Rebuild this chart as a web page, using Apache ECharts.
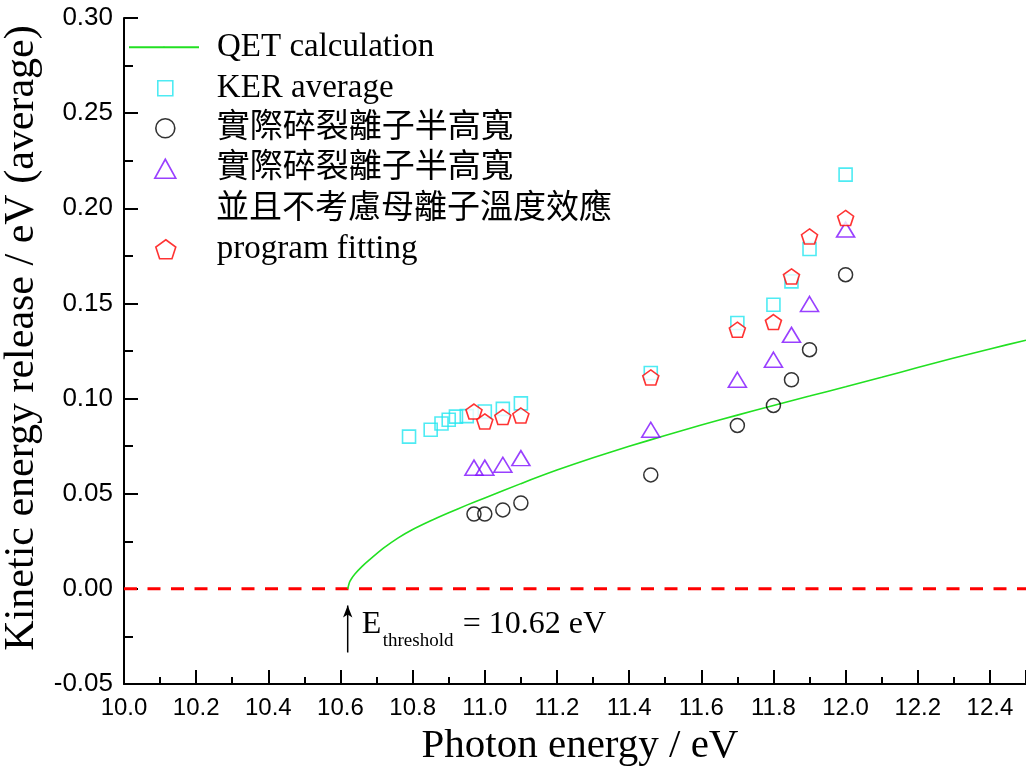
<!DOCTYPE html>
<html>
<head>
<meta charset="utf-8">
<script src="https://cdn.jsdelivr.net/npm/echarts@6/dist/echarts.min.js"></script>
<style>html,body{margin:0;padding:0;background:#fff}#c{width:1026px;height:775px}</style>
</head>
<body>
<div id="c"></div>
<script>
// ---- data ----
const qetX = [10.62, 10.625, 10.63, 10.64, 10.66, 10.68, 10.72, 10.76, 10.80, 10.85, 10.90, 10.95, 11.00, 11.10, 11.20, 11.30, 11.40, 11.50, 11.60, 11.70, 11.80, 11.90, 12.00, 12.10, 12.20, 12.30, 12.40, 12.50];
const qetY = [0.0, 0.0035, 0.0052, 0.0078, 0.0118, 0.0152, 0.0215, 0.0268, 0.0312, 0.0358, 0.0400, 0.0440, 0.0478, 0.0553, 0.0624, 0.0689, 0.0749, 0.0806, 0.0861, 0.0913, 0.0964, 0.1013, 0.1062, 0.1112, 0.1163, 0.1213, 0.1261, 0.1307];

const kerX = [10.79, 10.85, 10.88, 10.90, 10.92, 10.95, 11.00, 11.05, 11.10, 11.46, 11.70, 11.80, 11.85, 11.90, 12.00];
const kerY = [0.0800, 0.0836, 0.0869, 0.0889, 0.0905, 0.0908, 0.0932, 0.0946, 0.0975, 0.1134, 0.1397, 0.1493, 0.1616, 0.1786, 0.2177];

const ptX = [10.97, 11.00, 11.05, 11.10, 11.46, 11.70, 11.80, 11.85, 11.90, 12.00];
const circleY = [0.0393, 0.0393, 0.0415, 0.0451, 0.0599, 0.0859, 0.0964, 0.1099, 0.1257, 0.1651];
const triangleY = [0.0637, 0.0637, 0.0652, 0.0687, 0.0836, 0.1099, 0.1204, 0.1335, 0.1497, 0.1888];
const pentagonY = [0.0932, 0.0880, 0.0903, 0.0911, 0.1111, 0.1362, 0.1402, 0.1642, 0.1852, 0.1949];

const zeroLineX = [10.0, 12.5];
const zeroLineY = [0.0, 0.0];

const thresholdEnergy = 10.62;
const arrowFromY = -0.0335;
const arrowToY = -0.0088;

const legendNames = {
  qet: 'QET calculation',
  ker: 'KER average',
  circle: '實際碎裂離子半高寬',
  triangle: '實際碎裂離子半高寬',
  triangle2: '並且不考慮母離子溫度效應',
  pent: 'program fitting'
};
const annotation = { E: 'E', sub: 'threshold', rest: '= 10.62 eV' };

// ---- build ----
const zip = (xs, ys) => xs.map((x, i) => [x, ys[i]]);
const SERIF = "'Liberation Serif','Times New Roman','Noto Sans CJK TC',serif";
const SANS = "'Liberation Sans',Arial,sans-serif";
const pentagonPath = 'path://M0,-1 L0.951,-0.309 L0.588,0.809 L-0.588,0.809 L-0.951,-0.309 Z';
const TEXT_X = 216;

const chart = echarts.init(document.getElementById('c'), null, { renderer: 'canvas' });

function mkLegend(names, left, top, iw, ih) {
  return {
    orient: 'vertical', left: left, top: top, padding: 0,
    itemWidth: iw, itemHeight: ih, itemGap: 0, selectedMode: false,
    data: names,
    formatter: n => legendNames[n],
    itemStyle: { borderWidth: 1.6 },
    textStyle: { fontFamily: SERIF, fontSize: 33, color: '#000', lineHeight: 40.5,
                 padding: [0, 0, 0, TEXT_X - (left + iw + 5)] }
  };
}

const option = {
  animation: false,
  backgroundColor: '#fff',
  grid: { left: 124, right: 0, top: 18, bottom: 91, containLabel: false, outerBoundsMode: 'none' },
  legend: [
    mkLegend(['qet'], 128, 27, 70, 2),
    mkLegend(['ker'], 157, 68, 15, 15),
    mkLegend(['circle', 'triangle'], 154, 108, 21, 19),
    mkLegend(['pent'], 155, 229, 20, 19)
  ],
  xAxis: {
    type: 'value', min: 10.0, max: 12.5, interval: 0.2,
    axisLine: { show: true, onZero: false, lineStyle: { color: '#000', width: 2 } },
    axisTick: { show: true, inside: true, length: 14, lineStyle: { color: '#000', width: 2 } },
    minorTick: { show: true, splitNumber: 2, length: 7, lineStyle: { color: '#000', width: 2 } },
    splitLine: { show: false },
    axisLabel: { fontFamily: SANS, fontSize: 24, color: '#000', margin: 12, showMaxLabel: false, formatter: v => v.toFixed(1) },
    name: 'Photon energy / eV', nameLocation: 'middle', nameGap: 42,
    nameTextStyle: { fontFamily: SERIF, fontSize: 41, color: '#000', padding: [0, 0, 0, 10] }
  },
  yAxis: {
    type: 'value', min: -0.05, max: 0.30, interval: 0.05,
    axisLine: { show: true, onZero: false, lineStyle: { color: '#000', width: 2 } },
    axisTick: { show: true, inside: true, length: 14, lineStyle: { color: '#000', width: 2 } },
    minorTick: { show: true, splitNumber: 2, length: 9, lineStyle: { color: '#000', width: 2 } },
    splitLine: { show: false },
    axisLabel: { fontFamily: SANS, fontSize: 26, color: '#000', margin: 11, formatter: v => v.toFixed(2) },
    name: 'Kinetic energy release / eV (average)', nameLocation: 'middle', nameGap: 71, nameRotate: 90,
    nameTextStyle: { fontFamily: SERIF, fontSize: 42, color: '#000', padding: [0, 0, 0, 26] }
  },
  series: [
    {
      name: 'qet', type: 'line', data: zip(qetX, qetY), symbol: 'none', showSymbol: false, smooth: 0.25,
      lineStyle: { color: '#22e022', width: 1.6 }, itemStyle: { color: '#22e022' }, z: 2, silent: true
    },
    {
      name: 'ker', type: 'scatter', data: zip(kerX, kerY), symbol: 'rect', symbolSize: 13,
      itemStyle: { color: 'rgba(0,0,0,0)', borderColor: '#22e6f0', borderWidth: 1.6 }, z: 3
    },
    {
      name: 'circle', type: 'scatter', data: zip(ptX, circleY), symbol: 'circle', symbolSize: 14,
      itemStyle: { color: 'rgba(0,0,0,0)', borderColor: '#000', borderWidth: 1.5 }, z: 3
    },
    {
      name: 'triangle', type: 'scatter', data: zip(ptX, triangleY), symbol: 'triangle', symbolSize: [18, 15],
      itemStyle: { color: 'rgba(0,0,0,0)', borderColor: '#8010ff', borderWidth: 1.6 }, z: 3
    },
    {
      name: 'pent', type: 'scatter', data: zip(ptX, pentagonY), symbol: pentagonPath, symbolSize: [16, 15],
      itemStyle: { color: '#fff', borderColor: '#ff0000', borderWidth: 1.6 }, z: 4
    },
    {
      name: 'zero', type: 'line', data: zip(zeroLineX, zeroLineY), symbol: 'none', silent: true,
      lineStyle: { color: '#ff0000', width: 3, type: [13, 10.5] }, z: 1
    },
    {
      name: 'arrow', type: 'line', silent: true, showSymbol: true,
      data: [
        { value: [thresholdEnergy, arrowFromY], symbol: 'none' },
        { value: [thresholdEnergy, arrowToY], symbol: 'arrow', symbolSize: [7, 12] }
      ],
      lineStyle: { color: '#000', width: 1.5 }, itemStyle: { color: '#000' }, z: 5
    }
  ]
};
chart.setOption(option);

// second line of the triangle legend entry, and the threshold annotation
const p0 = chart.convertToPixel({ gridIndex: 0 }, [thresholdEnergy, 0]);
chart.setOption({
  graphic: [
    { type: 'text', x: TEXT_X, y: 209, style: { text: legendNames.triangle2, font: "33px 'Liberation Serif','Noto Sans CJK TC',serif", fill: '#000', verticalAlign: 'middle' } },
    { type: 'text', x: p0[0] + 14, y: p0[1] + 36, style: { text: annotation.E, font: "32px 'Liberation Serif',serif", fill: '#000', verticalAlign: 'middle' } },
    { type: 'text', x: p0[0] + 35, y: p0[1] + 52, style: { text: annotation.sub, font: "19px 'Liberation Serif',serif", fill: '#000', verticalAlign: 'middle' } },
    { type: 'text', x: p0[0] + 115, y: p0[1] + 36, style: { text: annotation.rest, font: "32px 'Liberation Serif',serif", fill: '#000', verticalAlign: 'middle' } }
  ]
});
</script>
</body>
</html>
